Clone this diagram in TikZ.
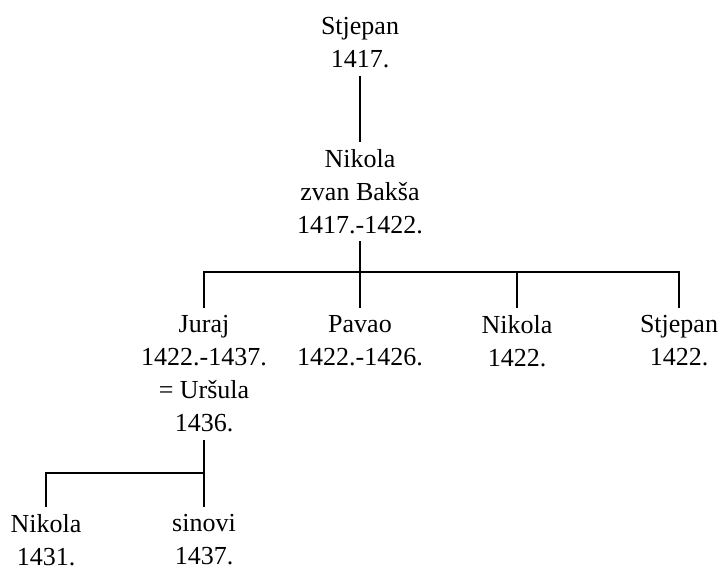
\documentclass[tikz,border=0pt]{standalone}
\usepackage{fontspec}
\setmainfont{Liberation Serif}
\usetikzlibrary{positioning}

\begin{document}
\begin{tikzpicture}[
    x=1pt, y=-1pt,
    person/.style={align=center, anchor=north, inner xsep=0pt, inner ysep=7.5pt,
                   font=\fontsize{26}{33}\selectfont},
    link/.style={line width=1.3pt}
  ]
    \useasboundingbox (0,0) rectangle (721,572);
    % generations
    \node[person] (stjepan) at (360,9.9) {Stjepan\\1417.};
    \node[person] (baksa) at (360,141.6) {Nikola\\zvan Bakša\\1417.-1422.};
    \node[person] (juraj) at (204,307.9) {Juraj\\1422.-1437.\\= Uršula\\1436.};
    \node[person] (pavao) at (360,307.9) {Pavao\\1422.-1426.};
    \node[person] (nikolaB) at (517,307.9) {Nikola\\1422.};
    \node[person] (stjepanB) at (679,307.9) {Stjepan\\1422.};
    \node[person] (nikolaC) at (46,506.9) {Nikola\\1431.};
    \node[person] (sinovi) at (204,506.9) {sinovi\\1437.};
    \coordinate (bar) at (0,272);
    \coordinate (barB) at (0,473);
    % lines
    \draw[link] (stjepan) -- (baksa);
    \draw[link] (baksa) -- (pavao);
    \draw[link] (juraj.north) -- (juraj.north |- bar) -- (stjepanB.north |- bar) -- (stjepanB.north);
    \draw[link] (nikolaB.north) -- (nikolaB.north |- bar);
    \draw[link] (juraj) -- (sinovi);
    \draw[link] (nikolaC.north) -- (nikolaC.north |- barB) -- (juraj.south |- barB);
  \end{tikzpicture}
\end{document}
